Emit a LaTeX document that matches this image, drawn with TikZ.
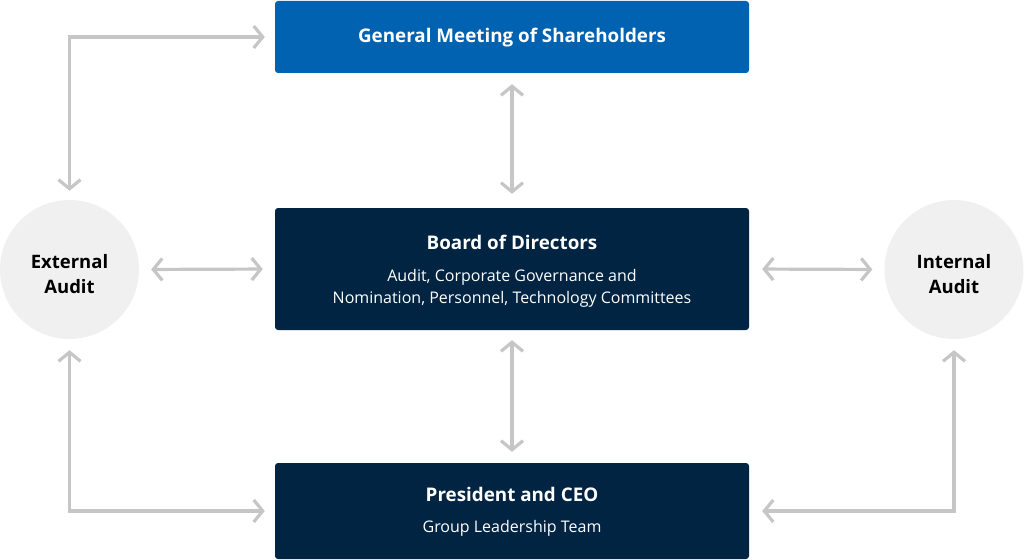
\documentclass[tikz,border=0pt]{standalone}
\usepackage{fontspec}
\setmainfont{Open Sans}
\usetikzlibrary{arrows.meta}
\definecolor{gmblue}{HTML}{0062B1}
\definecolor{navy}{HTML}{002442}
\definecolor{circfill}{HTML}{F0F0F0}
\definecolor{arrgray}{HTML}{C6C6C6}
\tikzset{
  box/.style={rectangle, rounded corners=3pt, minimum width=474pt, inner sep=0pt},
  audit/.style={circle, fill=circfill, minimum size=139pt, inner sep=0pt},
  biarr/.style={draw=arrgray, line width=3.2pt, {Straight Barb[length=9pt,width=22pt]}-{Straight Barb[length=9pt,width=22pt]}},
  ttl/.style={text=white, font=\fontsize{18.8}{22}\selectfont\bfseries},
  sub/.style={text=white, font=\fontsize{16}{22}\selectfont, align=center},
  ctxt/.style={text=black, font=\fontsize{18.5}{25}\selectfont\bfseries, align=center}
}
\begin{document}
\begin{tikzpicture}[x=1pt,y=-1pt]
\useasboundingbox (0,0) rectangle (1024,559);
\node[box, fill=gmblue, minimum height=72pt] (gm) at (512,37) {};
\node[box, fill=navy, minimum height=122pt] (board) at (512,269) {};
\node[box, fill=navy, minimum height=96pt] (ceo) at (512,511) {};
\node[audit] (ext) at (69.5,269.5) {};
\node[audit] (int) at (954,269.5) {};
\node[ttl] (gmt) at (512,38) {General Meeting of Shareholders};
\node[ttl] (bt) at (512,242) {Board of Directors};
\node[sub] (bs) at (512,288) {Audit, Corporate Governance and\\Nomination, Personnel, Technology Committees};
\node[ttl] (ct) at (512,494) {President and CEO};
\node[sub] (cs) at (512,528) {Group Leadership Team};
\node[ctxt] (et) at (69.5,274) {External\\Audit};
\node[ctxt] (it) at (954,274) {Internal\\Audit};
\draw[biarr, shorten <=9pt, shorten >=10pt] (ext.north) |- (gm.west);
\draw[biarr, shorten <=11pt, shorten >=10pt] (ext.south) |- (ceo.west);
\draw[biarr, shorten <=11pt, shorten >=13pt] (int.south) |- (ceo.east);
\draw[biarr, shorten <=12pt, shorten >=12pt] (ext.east) -- (board.west);
\draw[biarr, shorten <=13pt, shorten >=12pt] (board.east) -- (int.west);
\draw[biarr, shorten <=11pt, shorten >=14pt] (gm.south) -- (board.north);
\draw[biarr, shorten <=10pt, shorten >=11pt] (board.south) -- (ceo.north);
\end{tikzpicture}
\end{document}
